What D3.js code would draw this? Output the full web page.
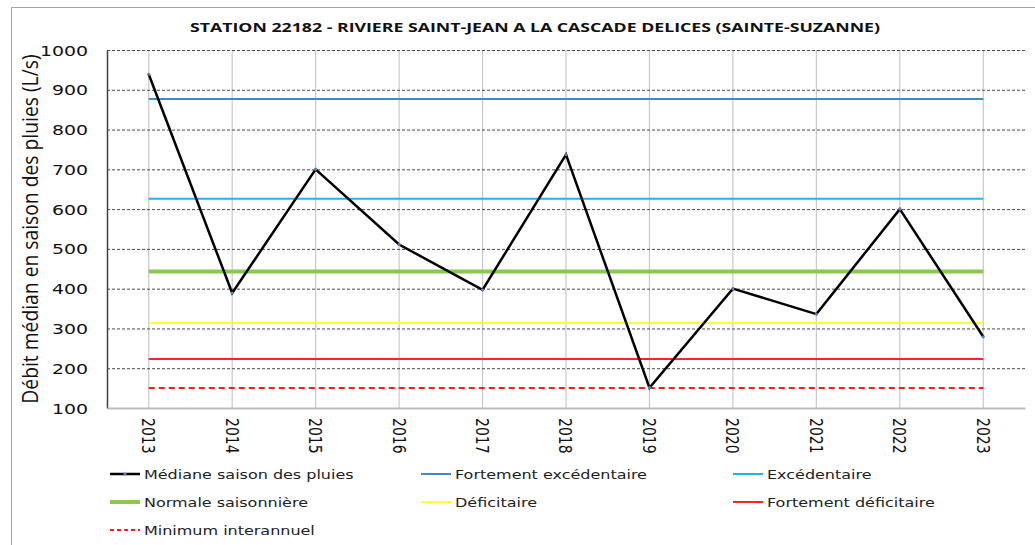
<!DOCTYPE html>
<html>
<head>
<meta charset="utf-8">
<script src="https://cdn.jsdelivr.net/npm/d3@7"></script>
<style>
  html, body { margin: 0; padding: 0; background: #fff; }
  svg { display: block; }
</style>
</head>
<body>
<div id="chart"></div>
<script>
// ── Data ──────────────────────────────────────────────────────────────────
const YEARS   = ["2013", "2014", "2015", "2016", "2017", "2018", "2019", "2020", "2021", "2022", "2023"];
const MEDIANE = [939, 389, 700, 511, 397, 737, 151, 400, 336, 600, 279];

const SEUIL_FORT_EXC = 877;
const SEUIL_EXC      = 626;
const NORMALE        = 443;
const SEUIL_DEF      = 314;
const SEUIL_FORT_DEF = 223;
const MINIMUM        = 150;

const Y_TICKS = [100, 200, 300, 400, 500, 600, 700, 800, 900, 1000];

const TITLE  = "STATION 22182 - RIVIERE SAINT-JEAN A LA CASCADE DELICES (SAINTE-SUZANNE)";
const YTITLE = "Débit médian en saison des pluies (L/s)";

// ── Series styles ────────────────────────────────────────────────────────
const LEVELS = [
  { name: "Fortement excédentaire", value: SEUIL_FORT_EXC, color: "#3a8cc6", width: 2 },
  { name: "Excédentaire",           value: SEUIL_EXC,      color: "#1eb4ec", width: 2 },
  { name: "Normale saisonnière",    value: NORMALE,        color: "#8cc850", width: 4 },
  { name: "Déficitaire",            value: SEUIL_DEF,      color: "#ffff3c", width: 2 },
  { name: "Fortement déficitaire",  value: SEUIL_FORT_DEF, color: "#ff2424", width: 2 },
  { name: "Minimum interannuel",    value: MINIMUM,        color: "#ff1a1a", width: 2, dash: "6,4" },
];

const W = 1035, H = 545;
const M = { left: 107, top: 50, right: 1025, bottom: 408 };
const FONT = "DejaVu Sans, Verdana, sans-serif";
const SANS = "Open Sans, Liberation Sans, sans-serif";
const STRETCH = 1.3;   // the original chart is widened horizontally

const svg = d3.select("#chart").append("svg")
  .attr("width", W).attr("height", H);

// outer frame (runs off the right / bottom edge)
svg.append("rect").attr("x", 11.5).attr("y", 7.5).attr("width", W).attr("height", H)
  .attr("fill", "none").attr("stroke", "#a6a6a6").attr("stroke-width", 1);

const x = d3.scaleBand().domain(YEARS).range([M.left, M.right]);
const xc = (d) => x(d) + x.bandwidth() / 2;
const y = d3.scaleLinear().domain([100, 1000]).range([M.bottom, M.top]);

// title
svg.append("text").attr("x", 535).attr("y", 32).attr("text-anchor", "middle")
  .attr("font-family", SANS).attr("font-weight", "bold")
  .attr("font-size", "13px").attr("fill", "#111")
  .attr("textLength", 690).attr("lengthAdjust", "spacingAndGlyphs").text(TITLE);

// ── Grid ──────────────────────────────────────────────────────────────────
const grid = svg.append("g");
grid.selectAll("line.v").data(YEARS).join("line").attr("class", "v")
  .attr("x1", xc).attr("x2", xc).attr("y1", M.top).attr("y2", M.bottom)
  .attr("stroke", "#c8c8c8").attr("stroke-width", 1.2);
grid.selectAll("line.h").data(Y_TICKS.filter((t) => t > 100)).join("line").attr("class", "h")
  .attr("x1", M.left).attr("x2", M.right).attr("y1", (d) => y(d) + 0.5).attr("y2", (d) => y(d) + 0.5)
  .attr("stroke", "#4a4a4a").attr("stroke-width", 1).attr("stroke-dasharray", "3,2");

// ── Axes ──────────────────────────────────────────────────────────────────
const yAxis = svg.append("g").attr("transform", `translate(${M.left},0)`)
  .call(d3.axisLeft(y).tickValues(Y_TICKS).tickFormat(d3.format("d")).tickSize(0));
yAxis.select(".domain").attr("stroke", "#404040").attr("stroke-width", 1.5);
yAxis.selectAll("text").attr("font-family", FONT).attr("font-size", "14px").attr("fill", "#111")
  .attr("x", 0).attr("dy", "0.36em").attr("transform", `translate(-19,0) scale(${STRETCH + 0.05},1)`);

const xAxis = svg.append("g").attr("transform", `translate(0,${M.bottom})`)
  .call(d3.axisBottom(x).tickSize(0).tickPadding(0));
xAxis.select(".domain").attr("stroke", "#bdbdbd").attr("stroke-width", 2);
xAxis.selectAll("text")
  .attr("font-family", FONT).attr("font-size", "14px").attr("fill", "#111")
  .attr("text-anchor", "start").attr("dy", "0.36em")
  .attr("transform", `translate(0,10) rotate(90) scale(1,${STRETCH})`).attr("x", 0).attr("y", 0);

// y title
svg.append("text").attr("transform", `translate(38,229) scale(1.15,1) rotate(-90)`)
  .attr("text-anchor", "middle").attr("font-family", SANS)
  .attr("font-size", "19.3px").attr("fill", "#111").text(YTITLE);

// ── Level lines ──────────────────────────────────────────────────────────
const lv = svg.append("g");
lv.selectAll("line").data(LEVELS).join("line")
  .attr("x1", xc(YEARS[0])).attr("x2", xc(YEARS[YEARS.length - 1]))
  .attr("y1", (d) => y(d.value)).attr("y2", (d) => y(d.value))
  .attr("stroke", (d) => d.color).attr("stroke-width", (d) => d.width)
  .attr("stroke-dasharray", (d) => d.dash || null);

// ── Median line ───────────────────────────────────────────────────────────
const line = d3.line().x((d, i) => xc(YEARS[i])).y((d) => y(d));
svg.append("path").datum(MEDIANE).attr("d", line)
  .attr("fill", "none").attr("stroke", "#000").attr("stroke-width", 2.5)
  .attr("stroke-linejoin", "miter");
svg.append("g").selectAll("circle").data(MEDIANE).join("circle")
  .attr("cx", (d, i) => xc(YEARS[i])).attr("cy", (d) => y(d)).attr("r", 1.6)
  .attr("fill", "#5b7fb5");

// ── Legend ────────────────────────────────────────────────────────────────
const legendItems = [{ name: "Médiane saison des pluies", color: "#000", width: 2.5, marker: true }].concat(LEVELS);
const colX = [110, 421, 733];
const rowY = [474, 502, 530];
const leg = svg.append("g");
legendItems.forEach((d, i) => {
  const lx = colX[i % 3], ly = rowY[Math.floor(i / 3)];
  leg.append("line").attr("x1", lx).attr("x2", lx + 30).attr("y1", ly).attr("y2", ly)
    .attr("stroke", d.color).attr("stroke-width", d.width)
    .attr("stroke-dasharray", d.dash ? "4,3" : null);
  if (d.marker) leg.append("circle").attr("cx", lx + 15).attr("cy", ly).attr("r", 1.6).attr("fill", "#5b7fb5");
  leg.append("text").attr("transform", `translate(${lx + 34},${ly}) scale(1.23,1)`).attr("dy", "0.36em")
    .attr("font-family", FONT).attr("font-size", "13px")
    .attr("fill", "#222").text(d.name);
});
</script>
</body>
</html>
